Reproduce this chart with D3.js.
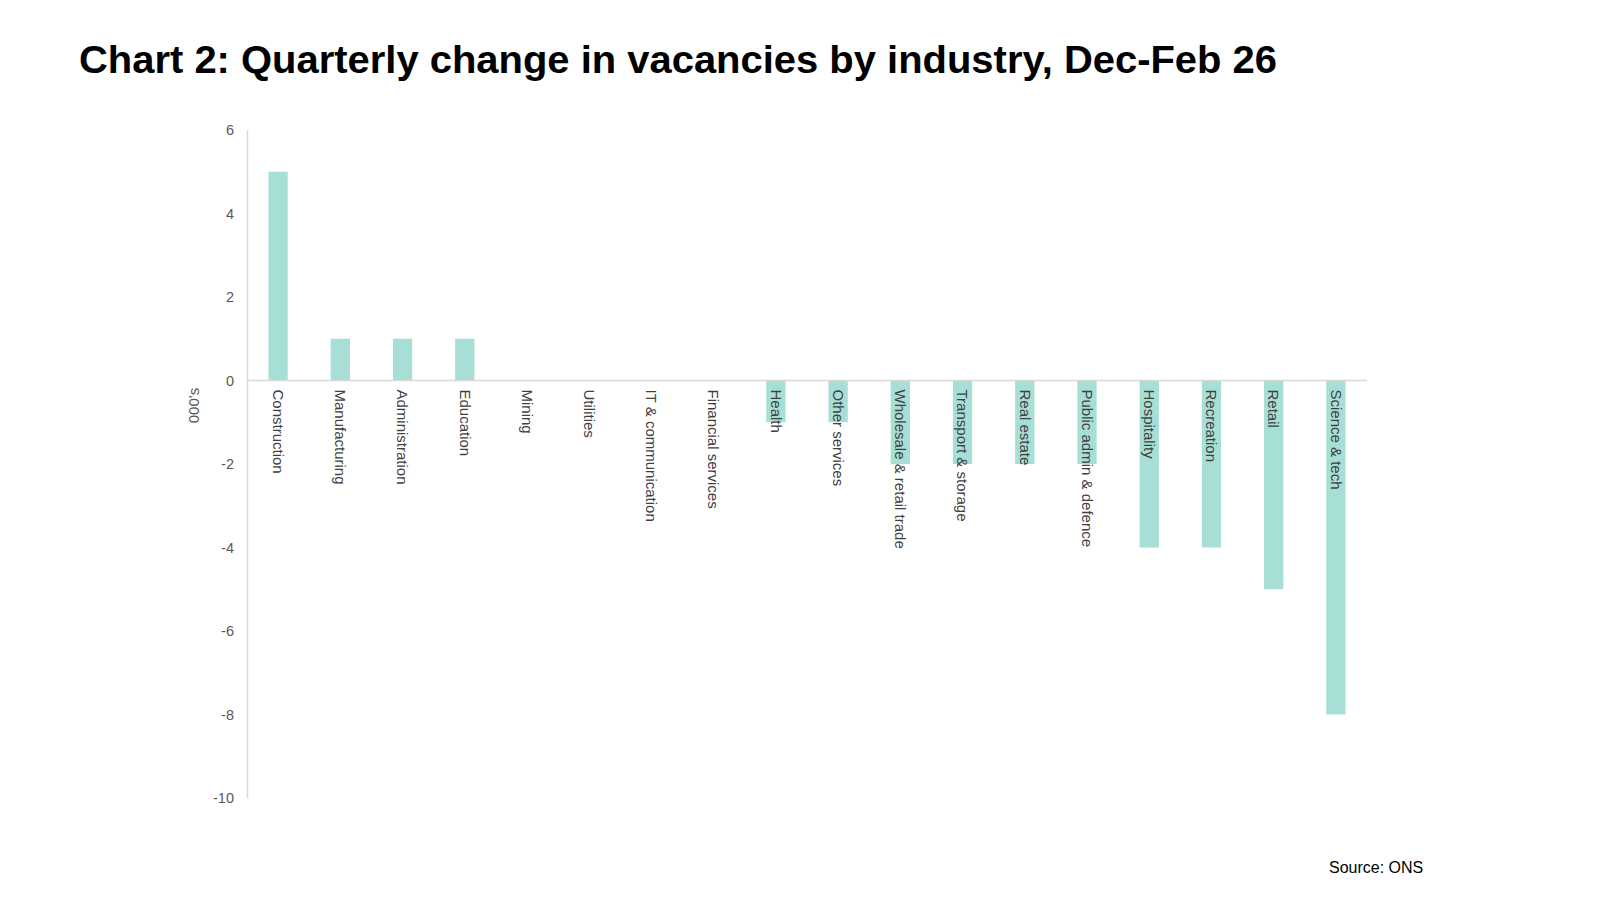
<!DOCTYPE html>
<html>
<head>
<meta charset="utf-8">
<script src="https://cdn.jsdelivr.net/npm/d3@7"></script>
<style>
  body { margin: 0; background: #fff; }
  svg { font-family: "Liberation Sans", Arial, sans-serif; }
</style>
</head>
<body>
<div id="chart"></div>
<script>
const industries = ["Construction", "Manufacturing", "Administration", "Education", "Mining",
                    "Utilities", "IT & communication", "Financial services", "Health", "Other services",
                    "Wholesale & retail trade", "Transport & storage", "Real estate", "Public admin & defence",
                    "Hospitality", "Recreation", "Retail", "Science & tech"];
const changes = [5, 1, 1, 1, 0, 0, 0, 0, -1, -1, -2, -2, -2, -2, -4, -4, -5, -8];
const yTicks = [6, 4, 2, 0, -2, -4, -6, -8, -10];

const width = 1600, height = 900;
const margin = {top: 130, left: 247, right: 233, bottom: 102};

const svg = d3.select("#chart")
  .append("svg")
  .attr("width", width)
  .attr("height", height);

// title
svg.append("text")
  .attr("x", 79)
  .attr("y", 73)
  .attr("textLength", 1198)
  .attr("lengthAdjust", "spacingAndGlyphs")
  .style("font-size", "38px")
  .style("font-weight", "bold")
  .style("fill", "#000")
  .text("Chart 2: Quarterly change in vacancies by industry, Dec-Feb 26");

var y = d3.scaleLinear()
  .domain([-10, 6])
  .range([height - margin.bottom, margin.top]);

var x = d3.scaleBand()
  .domain(industries)
  .range([margin.left, width - margin.right])
  .padding(0);

const barW = x.bandwidth() * 0.31;

// y axis line + labels
const yAxis = svg.append("g")
  .attr("transform", `translate(${margin.left}, 0)`)
  .call(d3.axisLeft(y).tickValues(yTicks).tickSize(0).tickPadding(13).tickFormat(d => String(d)));
yAxis.select(".domain").attr("stroke", "#d9d9d9").attr("stroke-width", 1.5);
yAxis.selectAll("text")
  .style("font-size", "14.5px")
  .style("fill", "#595959")
  .style("font-family", "Liberation Sans, Arial, sans-serif");

svg.append("text")
  .attr("transform", `translate(199, ${y(-0.6)}) rotate(-90)`)
  .style("text-anchor", "middle")
  .style("font-size", "15px")
  .style("fill", "#595959")
  .text("000's");

// bars
svg.append("g")
  .selectAll("rect")
  .data(industries)
  .enter().append("rect")
  .attr("x", (d) => x(d) + (x.bandwidth() - barW) / 2)
  .attr("y", (d, i) => y(Math.max(0, changes[i])))
  .attr("width", barW)
  .attr("height", (d, i) => Math.abs(y(changes[i]) - y(0)))
  .attr("fill", "#a7ded6");

// zero line
svg.append("line")
  .attr("x1", margin.left)
  .attr("x2", width - margin.right)
  .attr("y1", y(0))
  .attr("y2", y(0))
  .attr("stroke", "#d9d9d9")
  .attr("stroke-width", 1.5);

// category labels, rotated, below the zero line
svg.append("g")
  .selectAll("text")
  .data(industries)
  .enter().append("text")
  .attr("transform", (d) => `translate(${x(d) + x.bandwidth() / 2}, ${y(0) + 9}) rotate(90)`)
  .attr("dy", "0.35em")
  .style("font-size", "15px")
  .style("fill", "#404040")
  .text((d) => d);

svg.append("text")
  .attr("x", 1329)
  .attr("y", 873)
  .style("font-size", "16px")
  .style("fill", "#000")
  .text("Source: ONS");
</script>
</body>
</html>
